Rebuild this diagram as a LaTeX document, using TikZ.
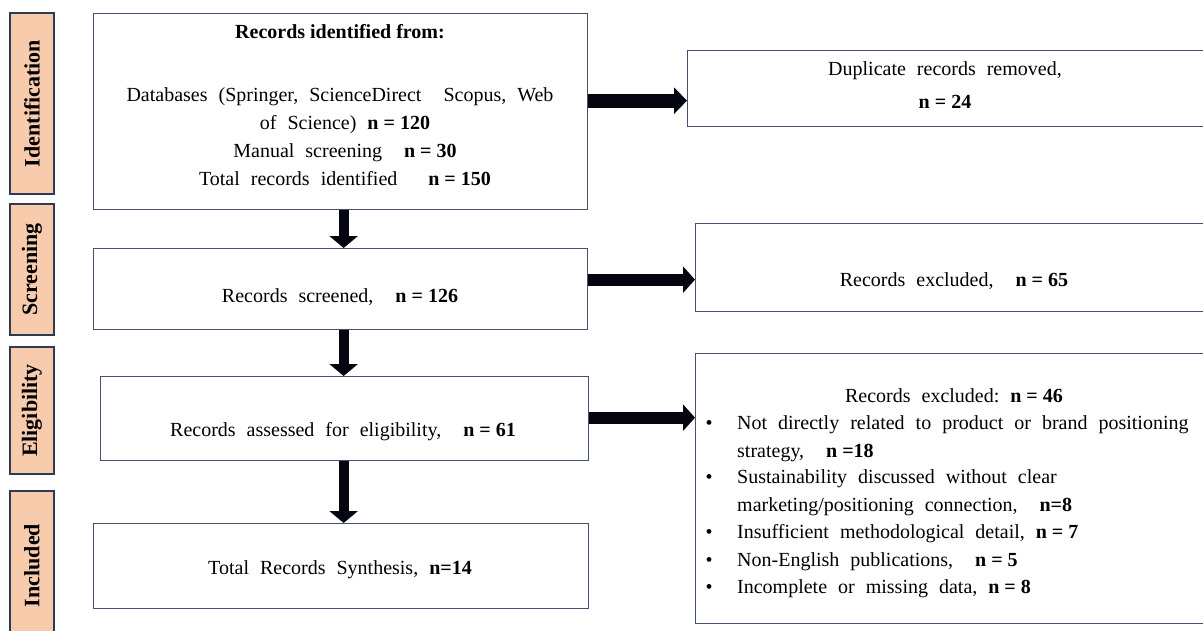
\documentclass[tikz,border=0pt]{standalone}
\usepackage{fontspec}
\setmainfont{Liberation Serif}[WordSpace=2.2]
\newfontfamily\tightserif{Liberation Serif}
\newcommand\nbold[1]{{\tightserif\bfseries #1}}
\usetikzlibrary{arrows.meta,calc}
\definecolor{peach}{HTML}{F8CBAD}
\definecolor{lblborder}{HTML}{2F3A56}
\definecolor{boxborder}{HTML}{465170}
\definecolor{arrowcol}{HTML}{05050F}
\begin{document}
\begin{tikzpicture}[x=1pt,y=-1pt,
  box/.style={draw=boxborder, line width=1.3pt, anchor=north west, inner sep=0pt, fill=white},
  phase/.style={rotate=90, fill=peach, draw=lblborder, line width=1.3pt, minimum height=44pt, inner sep=0pt,
    font=\fontsize{22}{24}\selectfont\tightserif\bfseries},
  txt/.style={anchor=base, inner sep=0pt, font=\fontsize{20}{27}\selectfont},
  txtw/.style={anchor=base west, inner sep=0pt, font=\fontsize{20}{27}\selectfont},
  harrow/.style={draw=arrowcol, line width=14pt, -{Triangle[width=26pt,length=13pt]}, arrowcol},
  harrowb/.style={draw=arrowcol, line width=12pt, -{Triangle[width=26pt,length=12pt]}, arrowcol},
  varrow/.style={draw=arrowcol, line width=10pt, -{Triangle[width=28pt,length=12pt]}, arrowcol}
]
\clip (0,0) rectangle (1203,630);
\fill[white] (0,0) rectangle (1203,630);

% phase labels
\node[phase, minimum width=181pt] (pid) at (32,103.5) {Identification};
\node[phase, minimum width=131pt] (psc) at (32,269.5) {Screening};
\node[phase, minimum width=127pt] (pel) at (32,410.5) {Eligibility};
\node[phase, minimum width=149pt] (pin) at (32,565.5) {Included};

% boxes
\node[box, minimum width=494pt, minimum height=196pt] (box1) at (93,13) {};
\node[box, minimum width=494pt, minimum height=81pt] (box2) at (93,248) {};
\node[box, minimum width=488pt, minimum height=84pt] (box3) at (100,376) {};
\node[box, minimum width=495pt, minimum height=85pt] (box4) at (93,523) {};
\node[box, minimum width=530pt, minimum height=76pt] (dup) at (687,50) {};
\node[box, minimum width=530pt, minimum height=88pt] (ex1) at (695,223) {};
\node[box, minimum width=530pt, minimum height=270pt] (ex2) at (695,353) {};

% box1 text
\node[txt] (b1t0) at (340,38) {\nbold{Records identified from:}};
\node[txt] (b1t1) at (340,101) {Databases (Springer, ScienceDirect\ \ Scopus, Web};
\node[txt] (b1t2) at (345,129) {of Science)\ \nbold{n = 120}};
\node[txt] (b1t3) at (345,157) {Manual screening\ \ \nbold{n = 30}};
\node[txt] (b1t4) at (345,185) {Total records identified\quad\ \nbold{n = 150}};

% other main texts
\node[txt] (b2t) at (340,302) {Records screened,\ \ \nbold{n = 126}};
\node[txt] (b3t) at (343,436) {Records assessed for eligibility,\ \ \nbold{n = 61}};
\node[txt] (b4t) at (340,574) {Total Records Synthesis,\ \nbold{n=14}};

% right texts
\node[txt] (dupt1) at (945,75) {Duplicate records removed,};
\node[txt] (dupt2) at (945,108) {\nbold{n = 24}};
\node[txt] (ex1t) at (954,286) {Records excluded,\ \ \nbold{n = 65}};
\node[txt] (ex2t) at (954,402) {Records excluded:\ \nbold{n = 46}};

\node[txt] (bl1) at (709,429) {\textbullet};
\node[txtw] (l1) at (737,429) {Not directly related to product or brand positioning};
\node[txtw] (l1b) at (737,457) {strategy,\ \ \nbold{n =18}};
\node[txt] (bl2) at (709,483) {\textbullet};
\node[txtw] (l2) at (737,483) {Sustainability discussed without clear};
\node[txtw] (l2b) at (737,511) {marketing/positioning connection,\ \ \nbold{n=8}};
\node[txt] (bl3) at (709,538) {\textbullet};
\node[txtw] (l3) at (737,538) {Insufficient methodological detail, \nbold{n = 7}};
\node[txt] (bl4) at (709,566) {\textbullet};
\node[txtw] (l4) at (737,566) {Non-English publications,\ \ \nbold{n = 5}};
\node[txt] (bl5) at (709,593) {\textbullet};
\node[txtw] (l5) at (737,593) {Incomplete or missing data,\ \nbold{n = 8}};

% horizontal arrows
\coordinate (a1) at ([yshift=11pt]box1.east);
\draw[harrow] (a1) -- (a1 -| dup.west);
\coordinate (a2) at ([yshift=9.5pt]box2.east);
\draw[harrowb] (a2) -- (a2 -| ex1.west);
\coordinate (a3) at ([yshift=1pt]box3.east);
\draw[harrowb] (a3) -- (a3 -| ex2.west);

% vertical arrows
\coordinate (d1) at ([xshift=3pt]box1.south);
\draw[varrow] (d1) -- (d1 |- box2.north);
\coordinate (d2) at ([xshift=3pt]box2.south);
\draw[varrow] (d2) -- (d2 |- box3.north);
\coordinate (d3) at ([xshift=-1pt]box3.south);
\draw[varrow] (d3) -- (d3 |- box4.north);
\end{tikzpicture}
\end{document}
